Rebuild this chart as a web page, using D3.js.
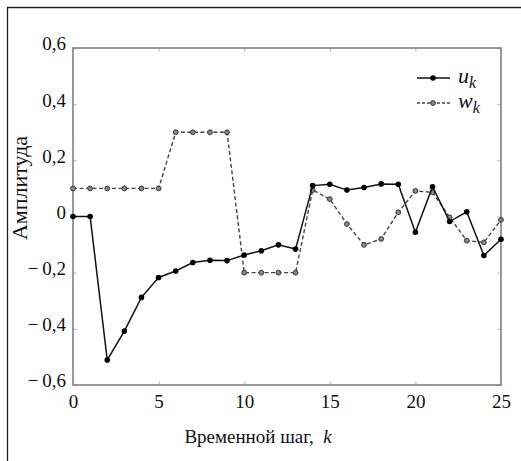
<!DOCTYPE html>
<html>
<head>
<meta charset="utf-8">
<script src="https://cdn.jsdelivr.net/npm/d3@7"></script>
<style>
  body { margin: 0; background: #fff; }
  svg text { font-family: "Liberation Serif", "Times New Roman", "DejaVu Serif", serif; fill: #111; }
</style>
</head>
<body>
<svg id="canvas" width="521" height="461"></svg>
<script>
// data
var steps = d3.range(0, 26);
var uValues = [0, 0, -0.511, -0.408, -0.288, -0.217, -0.194, -0.164, -0.156, -0.157,
               -0.137, -0.122, -0.101, -0.116, 0.110, 0.115, 0.094, 0.103, 0.116, 0.115,
               -0.056, 0.106, -0.018, 0.017, -0.139, -0.081];
var wValues = [0.1, 0.1, 0.1, 0.1, 0.1, 0.1, 0.3, 0.3, 0.3, 0.3,
               -0.2, -0.2, -0.2, -0.2, 0.094, 0.062, -0.027, -0.101, -0.080, 0.015,
               0.091, 0.086, -0.003, -0.086, -0.092, -0.012];
var xTicks = [0, 5, 10, 15, 20, 25];
var yTicks = [-0.6, -0.4, -0.2, 0, 0.2, 0.4, 0.6];

var serif = '"Liberation Serif", "Times New Roman", "DejaVu Serif", serif';
var svg = d3.select("#canvas");
var pLeft = 73, pRight = 501, pTop = 48, pBottom = 385;

var x = d3.scaleLinear().domain([0, 25]).range([pLeft, pRight]);
var y = d3.scaleLinear().domain([-0.6, 0.6]).range([pBottom, pTop]);

// outer frame (only left and top edges are visible)
svg.append("path")
    .attr("d", "M7.5,461V7.5H521")
    .attr("fill", "none")
    .attr("stroke", "#222")
    .attr("stroke-width", 1.3);

let fmt = (v) => {
    if (Math.abs(v) < 1e-9) return "0";
    let s = Math.abs(v).toFixed(1).replace(".", ",");
    return v < 0 ? "\u2212\u2009" + s : s;
}

// axes with inner ticks
let axisStyle = (g) => {
    g.attr("font-family", serif);
    g.select(".domain").remove();
    g.selectAll(".tick line").attr("stroke", "#bbb").attr("stroke-width", 1);
    g.selectAll(".tick text").style("font-size", "19px").style("font-family", serif).attr("fill", "#111");
}
svg.append("g")
    .attr("transform", "translate(0," + pBottom + ")")
    .call(d3.axisBottom(x).tickValues(xTicks).tickSizeInner(-4).tickSizeOuter(0).tickPadding(10).tickFormat(d3.format("d")))
    .call(axisStyle)
    .selectAll(".tick text").attr("dy", "0.7em");
svg.append("g")
    .attr("transform", "translate(0," + pTop + ")")
    .call(d3.axisTop(x).tickValues(xTicks).tickSizeInner(-4).tickSizeOuter(0).tickFormat(""))
    .call(axisStyle);
svg.append("g")
    .attr("transform", "translate(" + pLeft + ",0)")
    .call(d3.axisLeft(y).tickValues(yTicks).tickSizeInner(-4).tickSizeOuter(0).tickPadding(7).tickFormat(fmt))
    .call(axisStyle)
    .selectAll(".tick text").attr("dy", "0.1em");
svg.append("g")
    .attr("transform", "translate(" + pRight + ",0)")
    .call(d3.axisRight(y).tickValues(yTicks).tickSizeInner(-4).tickSizeOuter(0).tickFormat(""))
    .call(axisStyle);

// plot box
svg.append("rect")
    .attr("x", pLeft).attr("y", pTop)
    .attr("width", pRight - pLeft).attr("height", pBottom - pTop)
    .attr("fill", "none")
    .attr("stroke", "#808080")
    .attr("stroke-width", 1.6);

let line = d3.line().x((d) => x(d[0])).y((d) => y(d[1]));
let wData = steps.map((k, i) => [k, wValues[i]]);
let uData = steps.map((k, i) => [k, uValues[i]]);

// w_k dashed grey
svg.append("path")
    .datum(wData)
    .attr("d", line)
    .attr("fill", "none")
    .attr("stroke", "#444")
    .attr("stroke-width", 1.4)
    .attr("stroke-dasharray", "4,2.5");
svg.selectAll(".wpt")
    .data(wData)
    .enter()
    .append("circle")
    .attr("class", "wpt")
    .attr("cx", (d) => x(d[0]))
    .attr("cy", (d) => y(d[1]))
    .attr("r", 2.4)
    .attr("fill", "#888")
    .attr("stroke", "#333")
    .attr("stroke-width", 1);

// u_k solid black
svg.append("path")
    .datum(uData)
    .attr("d", line)
    .attr("fill", "none")
    .attr("stroke", "#111")
    .attr("stroke-width", 1.5);
svg.selectAll(".upt")
    .data(uData)
    .enter()
    .append("circle")
    .attr("class", "upt")
    .attr("cx", (d) => x(d[0]))
    .attr("cy", (d) => y(d[1]))
    .attr("r", 2.8)
    .attr("fill", "#000");

// legend
let legend = svg.append("g");
let items = [
    {name: "u", dash: null, stroke: "#111", fill: "#000", ms: "none", r: 2.8, y: 78},
    {name: "w", dash: "3,2", stroke: "#444", fill: "#888", ms: "#333", r: 2.4, y: 103}
];
items.forEach((it) => {
    legend.append("line")
        .attr("x1", 417).attr("x2", 450)
        .attr("y1", it.y).attr("y2", it.y)
        .attr("stroke", it.stroke)
        .attr("stroke-width", 1.5)
        .attr("stroke-dasharray", it.dash);
    legend.append("circle")
        .attr("cx", 433).attr("cy", it.y).attr("r", it.r)
        .attr("fill", it.fill)
        .attr("stroke", it.ms);
    let t = legend.append("text")
        .attr("x", 458).attr("y", it.y + 5)
        .style("font-family", serif)
        .style("font-size", "22px")
        .style("font-style", "italic");
    t.append("tspan").text(it.name);
    t.append("tspan").attr("dy", 5).style("font-size", "16px").text("k");
});

// axis titles
let xt = svg.append("text")
    .attr("x", 258).attr("y", 443)
    .attr("text-anchor", "middle")
    .style("font-family", serif)
    .style("font-size", "19px");
xt.append("tspan").text("Временной шаг,\u00a0 ");
xt.append("tspan").style("font-style", "italic").text("k");

svg.append("text")
    .attr("transform", "translate(27,188) rotate(-90)")
    .attr("text-anchor", "middle")
    .style("font-family", serif)
    .style("font-size", "22px")
    .text("Амплитуда");
</script>
</body>
</html>
